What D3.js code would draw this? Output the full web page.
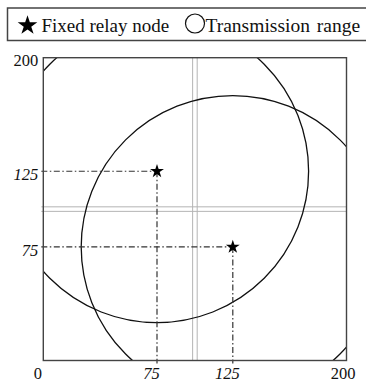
<!DOCTYPE html>
<html>
<head>
<meta charset="utf-8">
<script src="https://cdn.jsdelivr.net/npm/d3@7"></script>
<style>
  body { margin: 0; background: #fff; }
  text { font-family: "Liberation Serif", "Times New Roman", serif; fill: #111; }
</style>
</head>
<body>
<div id="chart"></div>
<script>
  // data
  let nodeX = [75, 125];
  let nodeY = [125, 75];
  let rangeR = 100;
  let guideLines = [98.5, 101.5];
  let xTicks = [0, 75, 125, 200];
  let yTicks = [75, 125, 200];
  let italicTicks = [75, 125];

  let svgWidth = 366;
  let svgHeight = 384;
  let margin = {top: 57.7, right: 19.5, bottom: 23.5, left: 43.3};
  let chartWidth = svgWidth - margin.left - margin.right;
  let chartHeight = svgHeight - margin.top - margin.bottom;

  let svg = d3.select("#chart")
    .append("svg")
    .attr("width", svgWidth)
    .attr("height", svgHeight);

  //legend
  let legend = svg.append("g");
  legend.append("rect")
    .attr("x", 7.5).attr("y", 8)
    .attr("width", 370).attr("height", 32.5)
    .attr("fill", "none")
    .attr("stroke", "#444")
    .attr("stroke-width", 1.5);
  legend.append("path")
    .attr("d", d3.symbol(d3.symbolStar, 120)())
    .attr("transform", "translate(27.5,25.5)")
    .attr("fill", "#000");
  legend.append("text")
    .attr("x", 41.5).attr("y", 32)
    .style("font-size", "19px")
    .text("Fixed relay node");
  legend.append("circle")
    .attr("cx", 195).attr("cy", 23.5).attr("r", 9.5)
    .attr("fill", "none").attr("stroke", "#111").attr("stroke-width", 1.2);
  legend.append("text")
    .attr("x", 205.5).attr("y", 32)
    .style("font-size", "19.5px")
    .style("word-spacing", "2px")
    .text("Transmission range");

  let chartGroup = svg.append("g")
    .attr("transform", `translate(${margin.left}, ${margin.top})`);

  let x = d3.scaleLinear().domain([0, 200]).range([0, chartWidth]);
  let y = d3.scaleLinear().domain([0, 200]).range([chartHeight, 0]);

  chartGroup.append("clipPath").attr("id", "plotclip")
    .append("rect").attr("width", chartWidth).attr("height", chartHeight);

  //gray guide lines
  guideLines.forEach(v => {
    chartGroup.append("line")
      .attr("x1", x(v)).attr("x2", x(v))
      .attr("y1", 0).attr("y2", chartHeight)
      .attr("stroke", "#b4b4b4").attr("stroke-width", 1);
    chartGroup.append("line")
      .attr("x1", -2).attr("x2", chartWidth)
      .attr("y1", y(v)).attr("y2", y(v))
      .attr("stroke", "#b4b4b4").attr("stroke-width", 1);
  });

  //transmission ranges
  chartGroup.append("g")
    .attr("clip-path", "url(#plotclip)")
    .selectAll("ellipse")
    .data(nodeX)
    .enter()
    .append("ellipse")
    .attr("cx", (d, i) => x(d))
    .attr("cy", (d, i) => y(nodeY[i]))
    .attr("rx", x(rangeR) - x(0))
    .attr("ry", y(0) - y(rangeR))
    .attr("fill", "none")
    .attr("stroke", "#111")
    .attr("stroke-width", 1.3);

  //dash-dot projections
  nodeX.forEach((d, i) => {
    chartGroup.append("line")
      .attr("x1", -2).attr("x2", x(d))
      .attr("y1", y(nodeY[i])).attr("y2", y(nodeY[i]))
      .attr("stroke", "#333").attr("stroke-width", 1.2)
      .attr("stroke-dasharray", "6,2.5,1.5,2.5");
    chartGroup.append("line")
      .attr("x1", x(d)).attr("x2", x(d))
      .attr("y1", y(nodeY[i])).attr("y2", chartHeight + 3)
      .attr("stroke", "#333").attr("stroke-width", 1.2)
      .attr("stroke-dasharray", "6,2.5,1.5,2.5");
  });

  //frame
  chartGroup.append("rect")
    .attr("width", chartWidth).attr("height", chartHeight)
    .attr("fill", "none")
    .attr("stroke", "#444")
    .attr("stroke-width", 1.4);

  //nodes
  chartGroup.selectAll(".node")
    .data(nodeX)
    .enter()
    .append("path")
    .attr("class", "node")
    .attr("d", d3.symbol(d3.symbolStar, 60)())
    .attr("transform", (d, i) => `translate(${x(d)},${y(nodeY[i])})`)
    .attr("fill", "#000");

  //tick labels
  let xAxis = d3.axisBottom(x).tickValues(xTicks).tickSize(0).tickPadding(0);
  let xAxisG = chartGroup.append("g")
    .attr("transform", `translate(0, ${chartHeight})`)
    .call(xAxis);
  xAxisG.select(".domain").remove();
  xAxisG.selectAll("text")
    .attr("y", 18)
    .attr("dy", 0)
    .attr("dx", d => d === 200 ? -4 : -6)
    .style("font-size", "16.5px")
    .style("font-family", "'Liberation Serif', serif")
    .style("font-style", d => italicTicks.includes(d) ? "italic" : "normal")
    .attr("fill", "#111");

  let yAxis = d3.axisLeft(y).tickValues(yTicks).tickSize(0).tickPadding(0);
  let yAxisG = chartGroup.append("g").call(yAxis);
  yAxisG.select(".domain").remove();
  yAxisG.selectAll("text")
    .attr("x", -5)
    .attr("dy", "0.5em")
    .style("font-size", "16.5px")
    .style("font-family", "'Liberation Serif', serif")
    .style("font-style", d => italicTicks.includes(d) ? "italic" : "normal")
    .attr("fill", "#111");
</script>
</body>
</html>
